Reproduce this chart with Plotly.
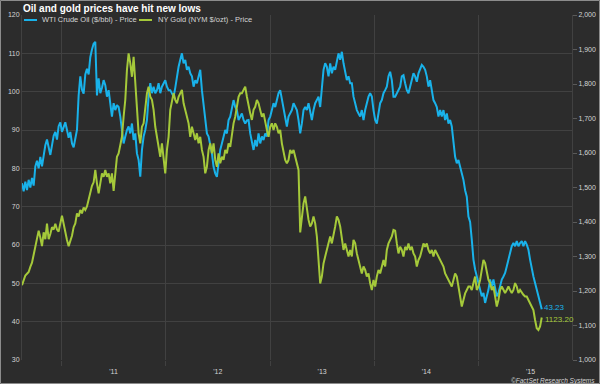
import pandas as pd
import plotly.graph_objects as go

# ---- data (roughly weekly samples, Aug 2010 - Aug 2015) ----
oil_2010_11 = [76.1, 74.0, 76.5, 74.3, 77.0, 75.0, 77.5, 75.5, 80.5, 82.0, 80.0, 83.0, 80.5, 84.0, 86.0,
               87.5, 85.0, 83.5, 86.0, 88.5, 89.5, 87.5, 91.0, 92.0, 89.5, 91.0, 92.0, 90.0, 88.0, 89.5,
               86.5, 85.5, 87.5, 90.0, 99.0, 104.0, 100.5, 99.5, 104.5, 106.0, 104.5, 109.0, 111.0, 112.5]
oil_2011 = [113.0, 99.0, 103.5, 99.6, 101.0, 103.0, 101.7, 98.7, 100.4, 96.0, 93.5, 97.0, 95.2, 96.5, 96.0,
            93.5, 90.0, 86.5, 88.3, 90.0, 90.9, 89.1, 91.7, 87.4, 89.1, 83.9, 82.2, 77.8, 84.8, 88.3,
            90.0, 92.6, 98.7, 102.2, 99.6, 101.3, 99.6, 100.4, 102.2, 99.6, 101.3, 102.0, 103.0, 101.3, 100.4]
oil_2012 = [100.4, 99.5, 98.7, 101.0, 104.0, 106.5, 108.3, 110.0, 107.4, 108.3, 105.7, 106.5, 104.8, 104.0, 101.3,
            103.0, 102.2, 104.0, 105.7, 100.4, 96.0, 93.5, 89.1, 88.3, 86.5, 83.9, 80.4, 78.7, 77.8, 82.2,
            84.8, 86.5, 88.3, 90.0, 89.1, 92.6, 93.5, 96.0, 97.8, 96.0, 95.2, 92.6, 93.5, 94.3, 92.6]
oil_2013a = [91.7, 92.5, 92.6, 89.1, 86.5, 84.8, 87.4, 85.7, 89.1, 86.5, 88.3, 87.4, 89.1, 88.3, 92.6,
             93.5, 95.2, 97.0, 96.0, 97.8, 99.6, 100.4, 97.8, 96.0, 92.6, 90.9, 93.5, 94.3, 95.2, 97.0,
             96.0, 95.2, 92.6, 89.1, 91.7, 95.2, 96.0, 95.2, 97.0, 94.3, 92.6, 95.2, 97.0, 97.8, 98.7]
oil_2013b = [96.0, 100.4, 105.7, 107.4, 106.5, 104.0, 107.4, 104.8, 106.5, 105.7, 108.3, 110.0, 108.3, 110.4, 107.4,
             104.8, 103.0, 104.0, 102.2, 102.2, 98.7, 97.0, 95.2, 94.3, 93.5, 95.2, 92.6, 95.2, 97.0, 98.7,
             99.6, 98.7, 95.2, 92.6, 91.7, 94.3, 97.0, 97.8, 99.6, 100.4, 101.3, 104.0, 105.2, 103.0, 98.7]
oil_2014 = [98.7, 99.6, 100.4, 101.3, 104.0, 104.3, 102.2, 100.4, 99.6, 101.3, 103.0, 104.8, 104.0, 102.6, 104.8,
            106.1, 107.0, 106.5, 105.7, 104.0, 101.3, 103.0, 100.4, 97.8, 97.0, 96.0, 93.5, 95.2, 93.5, 95.2,
            92.6, 94.3, 91.7, 92.6, 90.9, 86.5, 83.0, 81.3, 82.2, 80.4, 78.7, 77.0, 74.3, 72.6, 67.4]
oil_2015 = [66.0, 61.4, 56.2, 53.6, 51.8, 50.1, 48.3, 46.6, 47.5, 44.9, 46.6, 48.3, 51.0, 49.2, 51.0,
            49.2, 46.6, 47.5, 49.2, 51.0, 51.8, 52.7, 54.4, 56.2, 57.9, 59.7, 60.5, 59.7, 61.0, 59.7,
            60.5, 61.0, 59.7, 61.0, 60.1, 58.8, 56.2, 53.6, 51.8, 50.1, 48.3, 46.6, 44.9, 43.23]

gold_2010_11 = [1217, 1230, 1245, 1250, 1255, 1270, 1282, 1305, 1330, 1355, 1375, 1355, 1330, 1370, 1350,
                1395, 1350, 1365, 1385, 1378, 1395, 1378, 1372, 1396, 1418, 1395, 1368, 1348, 1330, 1345,
                1360, 1385, 1396, 1425, 1416, 1435, 1425, 1442, 1435, 1445, 1465, 1485, 1505, 1515]
gold_2011 = [1551, 1512, 1483, 1512, 1541, 1531, 1551, 1531, 1541, 1512, 1541, 1490, 1531, 1589, 1599,
             1628, 1647, 1705, 1754, 1841, 1889, 1860, 1821, 1879, 1812, 1725, 1657, 1628, 1676, 1686,
             1734, 1773, 1792, 1763, 1754, 1725, 1676, 1647, 1618, 1589, 1628, 1580, 1541, 1609, 1647]
gold_2012 = [1725, 1754, 1773, 1754, 1744, 1763, 1773, 1783, 1744, 1725, 1705, 1686, 1647, 1676, 1657,
             1638, 1657, 1628, 1647, 1609, 1589, 1541, 1560, 1609, 1628, 1599, 1628, 1580, 1560, 1599,
             1570, 1589, 1580, 1609, 1599, 1628, 1618, 1657, 1686, 1705, 1734, 1763, 1773, 1773, 1783]
gold_2013a = [1792, 1763, 1734, 1715, 1696, 1725, 1734, 1754, 1744, 1725, 1705, 1715, 1686, 1667, 1647,
              1676, 1686, 1667, 1686, 1676, 1657, 1667, 1628, 1599, 1580, 1570, 1580, 1609, 1599, 1609,
              1589, 1570, 1551, 1370, 1416, 1454, 1474, 1435, 1406, 1387, 1396, 1416, 1396, 1358, 1300]
gold_2013b = [1222, 1242, 1280, 1300, 1319, 1338, 1358, 1338, 1358, 1387, 1416, 1406, 1387, 1358, 1319,
              1338, 1319, 1300, 1319, 1300, 1348, 1338, 1309, 1290, 1271, 1251, 1271, 1261, 1242, 1251,
              1222, 1203, 1232, 1213, 1242, 1261, 1251, 1271, 1290, 1271, 1319, 1338, 1348, 1358, 1377]
gold_2014 = [1375, 1338, 1309, 1328, 1319, 1300, 1328, 1319, 1338, 1319, 1328, 1309, 1300, 1271, 1290,
             1300, 1319, 1338, 1328, 1338, 1319, 1309, 1319, 1300, 1319, 1309, 1300, 1290, 1280, 1271,
             1251, 1242, 1232, 1222, 1213, 1232, 1251, 1242, 1213, 1184, 1155, 1174, 1193, 1203, 1213]
gold_2015 = [1213, 1203, 1223, 1242, 1203, 1213, 1232, 1261, 1290, 1281, 1252, 1232, 1223, 1203, 1213,
             1184, 1155, 1174, 1203, 1213, 1203, 1194, 1203, 1213, 1203, 1194, 1203, 1223, 1213, 1194,
             1203, 1194, 1189, 1184, 1184, 1174, 1165, 1155, 1145, 1116, 1092, 1087, 1097, 1123.20]

oil = oil_2010_11 + oil_2011 + oil_2012 + oil_2013a + oil_2013b + oil_2014 + oil_2015
gold = gold_2010_11 + gold_2011 + gold_2012 + gold_2013a + gold_2013b + gold_2014 + gold_2015
dates = pd.date_range("2010-08-16", "2015-08-11", periods=len(oil))

oil_name = "WTI Crude Oil ($/bbl) - Price"
gold_name = "NY Gold (NYM $/ozt) - Price"
oil_label = "43.23"
gold_label = "1123.20"

OIL_C = "#19b2ea"
GOLD_C = "#a5c93a"
BG = "#2c2c2c"
GRID = "#414141"
TXT = "#d4d4d4"
FONT = "Liberation Sans, Arial, sans-serif"

fig = go.Figure()
fig.add_trace(go.Scatter(x=dates, y=oil, name=oil_name, mode="lines",
                         line=dict(color=OIL_C, width=2), yaxis="y", showlegend=False))
fig.add_trace(go.Scatter(x=dates, y=gold, name=gold_name, mode="lines",
                         line=dict(color=GOLD_C, width=2), yaxis="y2", showlegend=False))

W, H = 600, 384
L, R, T, B = 22, 28, 15, 24
pw, ph = W - L - R, H - T - B


def px(x):
    return (x - L) / pw


def py(y):
    return (H - B - y) / ph


# end-value labels
fig.add_annotation(x=dates[-1], y=oil[-1], yref="y", text=oil_label, showarrow=False,
                   xanchor="left", yanchor="middle", xshift=0, yshift=2,
                   font=dict(family=FONT, size=8, color=OIL_C))
fig.add_annotation(x=dates[-1], y=gold[-1], yref="y2", text=gold_label, showarrow=False,
                   xanchor="left", yanchor="middle", xshift=1, yshift=-2,
                   font=dict(family=FONT, size=8, color=GOLD_C))

# legend (keys + text)
shapes = [
    dict(type="line", xref="paper", yref="paper", x0=px(24), x1=px(37), y0=py(20), y1=py(20),
         line=dict(color=OIL_C, width=2)),
    dict(type="line", xref="paper", yref="paper", x0=px(139), x1=px(152), y0=py(20), y1=py(20),
         line=dict(color=GOLD_C, width=2)),
    dict(type="rect", xref="paper", yref="paper", x0=px(0.5), x1=px(599.5), y0=py(383.5), y1=py(0.5),
         line=dict(color="#8c8c8c", width=1), layer="above"),
]
fig.add_annotation(xref="paper", yref="paper", x=px(40), y=py(20), text=oil_name, showarrow=False,
                   xanchor="left", yanchor="middle", font=dict(family=FONT, size=7.5, color=TXT))
fig.add_annotation(xref="paper", yref="paper", x=px(156), y=py(20), text=gold_name, showarrow=False,
                   xanchor="left", yanchor="middle", font=dict(family=FONT, size=7.5, color=TXT))

# source
fig.add_annotation(xref="paper", yref="paper", x=px(597), y=py(380.5), text="<i>©FactSet Research Systems</i>",
                   showarrow=False, xanchor="right", yanchor="middle",
                   font=dict(family=FONT, size=6.5, color=TXT))

fig.update_layout(
    width=W, height=H,
    margin=dict(l=L, r=R, t=T, b=B, pad=0, autoexpand=False),
    paper_bgcolor=BG, plot_bgcolor=BG,
    font=dict(family=FONT, size=7, color=TXT),
    title=dict(text="<b>Oil and gold prices have hit new lows</b>", x=23 / W, xanchor="left",
               xref="container", y=1 - 8 / H, yanchor="middle", yref="container",
               font=dict(family=FONT, size=10, color="#ffffff"), automargin=False),
    shapes=shapes,
    hovermode=False,
    xaxis=dict(type="date", range=["2010-08-16", "2015-11-25"], dtick="M12", tick0="2011-01-01",
               ticklabelmode="period", tickformat="'%y", showgrid=True, gridcolor=GRID, gridwidth=1,
               ticks="outside", ticklen=5, tickcolor=GRID, showline=False, zeroline=False,
               automargin=False, tickfont=dict(family=FONT, size=7, color=TXT)),
    yaxis=dict(range=[30, 120], dtick=10, tick0=30, showgrid=True, gridcolor=GRID, gridwidth=1,
               showline=True, linecolor=GRID, zeroline=False, ticks="", automargin=False,
               tickfont=dict(family=FONT, size=7, color=TXT)),
    yaxis2=dict(range=[1000, 2000], dtick=100, tick0=1000, overlaying="y", side="right",
                tickformat=",d", showgrid=False, showline=True, linecolor=GRID, zeroline=False,
                ticks="outside", ticklen=4, tickcolor="#5a5a5a", automargin=False,
                tickfont=dict(family=FONT, size=7, color=TXT)),
)

fig.write_html("out.html", config={"displayModeBar": False},
               post_script="document.body.style.margin='0';document.body.style.padding='0';"
                           "document.body.style.overflow='hidden';")
